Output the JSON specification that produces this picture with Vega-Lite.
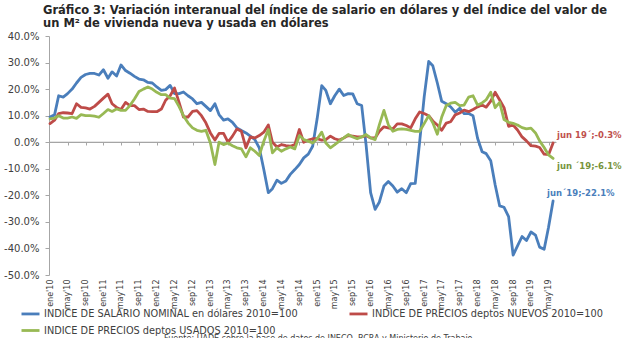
{
"$schema": "https://vega.github.io/schema/vega-lite/v6.json",
"width": 507, "height": 239,
"autosize": {"type": "none"},
"padding": {"left": 49, "top": 36, "right": 84, "bottom": 63},
"background": "white",
"config": {"view": {"stroke": null}, "font": "DejaVu Sans"},
"title": {"text": ["Gráfico 3: Variación interanual del índice de salario en dólares y del índice del valor de", "un M² de vivienda nueva y usada en dólares"], "anchor": "start", "frame": "group", "font": "DejaVu Sans", "fontSize": 11.5, "fontWeight": "bold", "color": "#262626", "dx": -6, "offset": 2, "lineHeight": 13},
"datasets": {
"main": [
{"m":"2010-01","k":"s","v":9.5},{"m":"2010-02","k":"s","v":10.3},{"m":"2010-03","k":"s","v":17.5},{"m":"2010-04","k":"s","v":17},{"m":"2010-05","k":"s","v":18.3},{"m":"2010-06","k":"s","v":20},{"m":"2010-07","k":"s","v":22.3},{"m":"2010-08","k":"s","v":24.4},{"m":"2010-09","k":"s","v":25.5},{"m":"2010-10","k":"s","v":25.9},{"m":"2010-11","k":"s","v":25.9},{"m":"2010-12","k":"s","v":25.3},
{"m":"2011-01","k":"s","v":27.3},{"m":"2011-02","k":"s","v":24.1},{"m":"2011-03","k":"s","v":26.5},{"m":"2011-04","k":"s","v":24.9},{"m":"2011-05","k":"s","v":29.1},{"m":"2011-06","k":"s","v":27},{"m":"2011-07","k":"s","v":26},{"m":"2011-08","k":"s","v":24.8},{"m":"2011-09","k":"s","v":23.8},{"m":"2011-10","k":"s","v":23.5},{"m":"2011-11","k":"s","v":22.5},{"m":"2011-12","k":"s","v":22.3},
{"m":"2012-01","k":"s","v":20.8},{"m":"2012-02","k":"s","v":19.5},{"m":"2012-03","k":"s","v":19.8},{"m":"2012-04","k":"s","v":21.4},{"m":"2012-05","k":"s","v":18.3},{"m":"2012-06","k":"s","v":18.3},{"m":"2012-07","k":"s","v":18.9},{"m":"2012-08","k":"s","v":17.5},{"m":"2012-09","k":"s","v":16.3},{"m":"2012-10","k":"s","v":14.5},{"m":"2012-11","k":"s","v":15},{"m":"2012-12","k":"s","v":13.5},
{"m":"2013-01","k":"s","v":11.9},{"m":"2013-02","k":"s","v":14.5},{"m":"2013-03","k":"s","v":10.4},{"m":"2013-04","k":"s","v":8.3},{"m":"2013-05","k":"s","v":8.8},{"m":"2013-06","k":"s","v":7.5},{"m":"2013-07","k":"s","v":5.4},{"m":"2013-08","k":"s","v":4.4},{"m":"2013-09","k":"s","v":3.5},{"m":"2013-10","k":"s","v":2.3},{"m":"2013-11","k":"s","v":1},{"m":"2013-12","k":"s","v":-2.1},
{"m":"2014-01","k":"s","v":-10.3},{"m":"2014-02","k":"s","v":-19},{"m":"2014-03","k":"s","v":-17.5},{"m":"2014-04","k":"s","v":-14.3},{"m":"2014-05","k":"s","v":-15.5},{"m":"2014-06","k":"s","v":-14.6},{"m":"2014-07","k":"s","v":-12.1},{"m":"2014-08","k":"s","v":-10.3},{"m":"2014-09","k":"s","v":-8.4},{"m":"2014-10","k":"s","v":-5.9},{"m":"2014-11","k":"s","v":-4.5},{"m":"2014-12","k":"s","v":-1.5},
{"m":"2015-01","k":"s","v":9},{"m":"2015-02","k":"s","v":21.3},{"m":"2015-03","k":"s","v":19.5},{"m":"2015-04","k":"s","v":14.5},{"m":"2015-05","k":"s","v":17.5},{"m":"2015-06","k":"s","v":20},{"m":"2015-07","k":"s","v":17.6},{"m":"2015-08","k":"s","v":18.3},{"m":"2015-09","k":"s","v":18.2},{"m":"2015-10","k":"s","v":14.5},{"m":"2015-11","k":"s","v":13.8},{"m":"2015-12","k":"s","v":-1},
{"m":"2016-01","k":"s","v":-19},{"m":"2016-02","k":"s","v":-25.3},{"m":"2016-03","k":"s","v":-22.5},{"m":"2016-04","k":"s","v":-16.5},{"m":"2016-05","k":"s","v":-14.8},{"m":"2016-06","k":"s","v":-16.5},{"m":"2016-07","k":"s","v":-18.8},{"m":"2016-08","k":"s","v":-17.5},{"m":"2016-09","k":"s","v":-19},{"m":"2016-10","k":"s","v":-15.6},{"m":"2016-11","k":"s","v":-15.5},{"m":"2016-12","k":"s","v":0},
{"m":"2017-01","k":"s","v":17},{"m":"2017-02","k":"s","v":30.4},{"m":"2017-03","k":"s","v":28.8},{"m":"2017-04","k":"s","v":22.3},{"m":"2017-05","k":"s","v":15.4},{"m":"2017-06","k":"s","v":14.5},{"m":"2017-07","k":"s","v":13.3},{"m":"2017-08","k":"s","v":11.3},{"m":"2017-09","k":"s","v":12.8},{"m":"2017-10","k":"s","v":10.8},{"m":"2017-11","k":"s","v":10.8},{"m":"2017-12","k":"s","v":10},
{"m":"2018-01","k":"s","v":1.5},{"m":"2018-02","k":"s","v":-3.6},{"m":"2018-03","k":"s","v":-4.3},{"m":"2018-04","k":"s","v":-7},{"m":"2018-05","k":"s","v":-16},{"m":"2018-06","k":"s","v":-24},{"m":"2018-07","k":"s","v":-24.5},{"m":"2018-08","k":"s","v":-28},{"m":"2018-09","k":"s","v":-42.5},{"m":"2018-10","k":"s","v":-39},{"m":"2018-11","k":"s","v":-35.5},{"m":"2018-12","k":"s","v":-37},
{"m":"2019-01","k":"s","v":-33.8},{"m":"2019-02","k":"s","v":-35},{"m":"2019-03","k":"s","v":-39.5},{"m":"2019-04","k":"s","v":-40.3},{"m":"2019-05","k":"s","v":-32},{"m":"2019-06","k":"s","v":-22.1,"t":"jun´19;-22.1%"},
{"m":"2010-01","k":"n","v":7},{"m":"2010-02","k":"n","v":8.3},{"m":"2010-03","k":"n","v":10.8},{"m":"2010-04","k":"n","v":11.1},{"m":"2010-05","k":"n","v":11},{"m":"2010-06","k":"n","v":10.8},{"m":"2010-07","k":"n","v":14.5},{"m":"2010-08","k":"n","v":13.1},{"m":"2010-09","k":"n","v":12.9},{"m":"2010-10","k":"n","v":12.5},{"m":"2010-11","k":"n","v":13.5},{"m":"2010-12","k":"n","v":15},
{"m":"2011-01","k":"n","v":16.6},{"m":"2011-02","k":"n","v":18.1},{"m":"2011-03","k":"n","v":14.5},{"m":"2011-04","k":"n","v":13.1},{"m":"2011-05","k":"n","v":12.3},{"m":"2011-06","k":"n","v":15},{"m":"2011-07","k":"n","v":13.8},{"m":"2011-08","k":"n","v":13.8},{"m":"2011-09","k":"n","v":12.3},{"m":"2011-10","k":"n","v":12.5},{"m":"2011-11","k":"n","v":11.6},{"m":"2011-12","k":"n","v":11.5},
{"m":"2012-01","k":"n","v":11.5},{"m":"2012-02","k":"n","v":12.5},{"m":"2012-03","k":"n","v":15.8},{"m":"2012-04","k":"n","v":17.5},{"m":"2012-05","k":"n","v":20.4},{"m":"2012-06","k":"n","v":15},{"m":"2012-07","k":"n","v":9.5},{"m":"2012-08","k":"n","v":9.5},{"m":"2012-09","k":"n","v":11.6},{"m":"2012-10","k":"n","v":11.9},{"m":"2012-11","k":"n","v":10},{"m":"2012-12","k":"n","v":7.3},
{"m":"2013-01","k":"n","v":3.5},{"m":"2013-02","k":"n","v":0.8},{"m":"2013-03","k":"n","v":3.3},{"m":"2013-04","k":"n","v":3.3},{"m":"2013-05","k":"n","v":0},{"m":"2013-06","k":"n","v":2.3},{"m":"2013-07","k":"n","v":5},{"m":"2013-08","k":"n","v":4.1},{"m":"2013-09","k":"n","v":-2.1},{"m":"2013-10","k":"n","v":2},{"m":"2013-11","k":"n","v":1.6},{"m":"2013-12","k":"n","v":2.5},
{"m":"2014-01","k":"n","v":3.8},{"m":"2014-02","k":"n","v":6.5},{"m":"2014-03","k":"n","v":0},{"m":"2014-04","k":"n","v":-1.8},{"m":"2014-05","k":"n","v":-0.9},{"m":"2014-06","k":"n","v":-1.3},{"m":"2014-07","k":"n","v":-1.5},{"m":"2014-08","k":"n","v":-0.9},{"m":"2014-09","k":"n","v":4.8},{"m":"2014-10","k":"n","v":0},{"m":"2014-11","k":"n","v":0.8},{"m":"2014-12","k":"n","v":1.3},
{"m":"2015-01","k":"n","v":1.3},{"m":"2015-02","k":"n","v":0.8},{"m":"2015-03","k":"n","v":1},{"m":"2015-04","k":"n","v":2.3},{"m":"2015-05","k":"n","v":1.3},{"m":"2015-06","k":"n","v":0.8},{"m":"2015-07","k":"n","v":1.6},{"m":"2015-08","k":"n","v":2.5},{"m":"2015-09","k":"n","v":2.3},{"m":"2015-10","k":"n","v":2},{"m":"2015-11","k":"n","v":2},{"m":"2015-12","k":"n","v":2.5},
{"m":"2016-01","k":"n","v":1.6},{"m":"2016-02","k":"n","v":1.6},{"m":"2016-03","k":"n","v":4.1},{"m":"2016-04","k":"n","v":5.8},{"m":"2016-05","k":"n","v":5.4},{"m":"2016-06","k":"n","v":5},{"m":"2016-07","k":"n","v":6.9},{"m":"2016-08","k":"n","v":6.9},{"m":"2016-09","k":"n","v":6.3},{"m":"2016-10","k":"n","v":5.4},{"m":"2016-11","k":"n","v":8.8},{"m":"2016-12","k":"n","v":11.4},
{"m":"2017-01","k":"n","v":10.8},{"m":"2017-02","k":"n","v":10},{"m":"2017-03","k":"n","v":8},{"m":"2017-04","k":"n","v":6.5},{"m":"2017-05","k":"n","v":4.5},{"m":"2017-06","k":"n","v":7.2},{"m":"2017-07","k":"n","v":7.7},{"m":"2017-08","k":"n","v":10.3},{"m":"2017-09","k":"n","v":11},{"m":"2017-10","k":"n","v":12.1},{"m":"2017-11","k":"n","v":11.5},{"m":"2017-12","k":"n","v":12.3},
{"m":"2018-01","k":"n","v":13.3},{"m":"2018-02","k":"n","v":14},{"m":"2018-03","k":"n","v":13.2},{"m":"2018-04","k":"n","v":15.5},{"m":"2018-05","k":"n","v":18.8},{"m":"2018-06","k":"n","v":15.9},{"m":"2018-07","k":"n","v":13},{"m":"2018-08","k":"n","v":6},{"m":"2018-09","k":"n","v":6.5},{"m":"2018-10","k":"n","v":4.6},{"m":"2018-11","k":"n","v":2},{"m":"2018-12","k":"n","v":0.5},
{"m":"2019-01","k":"n","v":-1.3},{"m":"2019-02","k":"n","v":-1.5},{"m":"2019-03","k":"n","v":-2},{"m":"2019-04","k":"n","v":-4.5},{"m":"2019-05","k":"n","v":-4.7},{"m":"2019-06","k":"n","v":-0.3,"t":"jun 19´;-0.3%"},
{"m":"2010-01","k":"u","v":8.8},{"m":"2010-02","k":"u","v":9.1},{"m":"2010-03","k":"u","v":10},{"m":"2010-04","k":"u","v":9.1},{"m":"2010-05","k":"u","v":9.1},{"m":"2010-06","k":"u","v":9.5},{"m":"2010-07","k":"u","v":9},{"m":"2010-08","k":"u","v":10.4},{"m":"2010-09","k":"u","v":10},{"m":"2010-10","k":"u","v":10},{"m":"2010-11","k":"u","v":9.8},{"m":"2010-12","k":"u","v":9.4},
{"m":"2011-01","k":"u","v":10.8},{"m":"2011-02","k":"u","v":12.3},{"m":"2011-03","k":"u","v":11.6},{"m":"2011-04","k":"u","v":12.5},{"m":"2011-05","k":"u","v":12},{"m":"2011-06","k":"u","v":12},{"m":"2011-07","k":"u","v":13.8},{"m":"2011-08","k":"u","v":16.3},{"m":"2011-09","k":"u","v":19.1},{"m":"2011-10","k":"u","v":20},{"m":"2011-11","k":"u","v":20.8},{"m":"2011-12","k":"u","v":20},
{"m":"2012-01","k":"u","v":18.8},{"m":"2012-02","k":"u","v":17.9},{"m":"2012-03","k":"u","v":17.9},{"m":"2012-04","k":"u","v":16.6},{"m":"2012-05","k":"u","v":16.4},{"m":"2012-06","k":"u","v":13.4},{"m":"2012-07","k":"u","v":10},{"m":"2012-08","k":"u","v":7.3},{"m":"2012-09","k":"u","v":5.4},{"m":"2012-10","k":"u","v":4.5},{"m":"2012-11","k":"u","v":4.1},{"m":"2012-12","k":"u","v":4.5},
{"m":"2013-01","k":"u","v":-0.3},{"m":"2013-02","k":"u","v":-8.4},{"m":"2013-03","k":"u","v":0},{"m":"2013-04","k":"u","v":-0.9},{"m":"2013-05","k":"u","v":-0.3},{"m":"2013-06","k":"u","v":-1.3},{"m":"2013-07","k":"u","v":-2.1},{"m":"2013-08","k":"u","v":-2.5},{"m":"2013-09","k":"u","v":-5.5},{"m":"2013-10","k":"u","v":-2.1},{"m":"2013-11","k":"u","v":-3.4},{"m":"2013-12","k":"u","v":-5},
{"m":"2014-01","k":"u","v":0.4},{"m":"2014-02","k":"u","v":4.8},{"m":"2014-03","k":"u","v":-4},{"m":"2014-04","k":"u","v":-2.1},{"m":"2014-05","k":"u","v":-3.4},{"m":"2014-06","k":"u","v":-2.5},{"m":"2014-07","k":"u","v":-1.8},{"m":"2014-08","k":"u","v":-2.5},{"m":"2014-09","k":"u","v":2.5},{"m":"2014-10","k":"u","v":1},{"m":"2014-11","k":"u","v":0.4},{"m":"2014-12","k":"u","v":-0.3},
{"m":"2015-01","k":"u","v":1.3},{"m":"2015-02","k":"u","v":3.8},{"m":"2015-03","k":"u","v":-0.3},{"m":"2015-04","k":"u","v":-2.1},{"m":"2015-05","k":"u","v":-0.9},{"m":"2015-06","k":"u","v":0.4},{"m":"2015-07","k":"u","v":1.6},{"m":"2015-08","k":"u","v":2.9},{"m":"2015-09","k":"u","v":2},{"m":"2015-10","k":"u","v":1.3},{"m":"2015-11","k":"u","v":2},{"m":"2015-12","k":"u","v":2.9},
{"m":"2016-01","k":"u","v":1.6},{"m":"2016-02","k":"u","v":1},{"m":"2016-03","k":"u","v":6.6},{"m":"2016-04","k":"u","v":12},{"m":"2016-05","k":"u","v":6.6},{"m":"2016-06","k":"u","v":4.1},{"m":"2016-07","k":"u","v":4.8},{"m":"2016-08","k":"u","v":5},{"m":"2016-09","k":"u","v":4.8},{"m":"2016-10","k":"u","v":4.5},{"m":"2016-11","k":"u","v":4.1},{"m":"2016-12","k":"u","v":4.1},
{"m":"2017-01","k":"u","v":7},{"m":"2017-02","k":"u","v":10},{"m":"2017-03","k":"u","v":7.3},{"m":"2017-04","k":"u","v":3},{"m":"2017-05","k":"u","v":9.5},{"m":"2017-06","k":"u","v":13.8},{"m":"2017-07","k":"u","v":14.7},{"m":"2017-08","k":"u","v":15},{"m":"2017-09","k":"u","v":13.8},{"m":"2017-10","k":"u","v":14},{"m":"2017-11","k":"u","v":17},{"m":"2017-12","k":"u","v":17.5},
{"m":"2018-01","k":"u","v":14},{"m":"2018-02","k":"u","v":14.8},{"m":"2018-03","k":"u","v":16},{"m":"2018-04","k":"u","v":18.8},{"m":"2018-05","k":"u","v":13},{"m":"2018-06","k":"u","v":15},{"m":"2018-07","k":"u","v":8.5},{"m":"2018-08","k":"u","v":7.5},{"m":"2018-09","k":"u","v":7.1},{"m":"2018-10","k":"u","v":6.5},{"m":"2018-11","k":"u","v":5.5},{"m":"2018-12","k":"u","v":5},
{"m":"2019-01","k":"u","v":5.3},{"m":"2019-02","k":"u","v":3.5},{"m":"2019-03","k":"u","v":0.5},{"m":"2019-04","k":"u","v":-2},{"m":"2019-05","k":"u","v":-4.8},{"m":"2019-06","k":"u","v":-6.1,"t":"jun ´19;-6.1%"}
]
},
"resolve": {"axis": {"x": "independent"}},
"layer": [
{
"data": {"values": [{}]},
"mark": {"type": "rule", "color": "#a6a6a6", "strokeWidth": 1},
"encoding": {
"x": {"datum": {"year": 2009, "month": 12, "date": 25, "utc": true}, "type": "temporal",
 "axis": {"orient": "bottom", "offset": -133, "labels": false, "domain": true, "domainColor": "#a6a6a6", "ticks": true, "tickColor": "#a6a6a6", "tickSize": 3, "grid": false, "title": null,
  "values": [{"year":2010,"month":5,"date":1,"utc":true},{"year":2010,"month":9,"date":1,"utc":true},{"year":2011,"month":1,"date":1,"utc":true},{"year":2011,"month":5,"date":1,"utc":true},{"year":2011,"month":9,"date":1,"utc":true},{"year":2012,"month":1,"date":1,"utc":true},{"year":2012,"month":5,"date":1,"utc":true},{"year":2012,"month":9,"date":1,"utc":true},{"year":2013,"month":1,"date":1,"utc":true},{"year":2013,"month":5,"date":1,"utc":true},{"year":2013,"month":9,"date":1,"utc":true},{"year":2014,"month":1,"date":1,"utc":true},{"year":2014,"month":5,"date":1,"utc":true},{"year":2014,"month":9,"date":1,"utc":true},{"year":2015,"month":1,"date":1,"utc":true},{"year":2015,"month":5,"date":1,"utc":true},{"year":2015,"month":9,"date":1,"utc":true},{"year":2016,"month":1,"date":1,"utc":true},{"year":2016,"month":5,"date":1,"utc":true},{"year":2016,"month":9,"date":1,"utc":true},{"year":2017,"month":1,"date":1,"utc":true},{"year":2017,"month":5,"date":1,"utc":true},{"year":2017,"month":9,"date":1,"utc":true},{"year":2018,"month":1,"date":1,"utc":true},{"year":2018,"month":5,"date":1,"utc":true},{"year":2018,"month":9,"date":1,"utc":true},{"year":2019,"month":1,"date":1,"utc":true},{"year":2019,"month":5,"date":1,"utc":true}]}},
"x2": {"datum": {"year": 2019, "month": 6, "date": 21, "utc": true}},
"y": {"datum": 0, "type": "quantitative",
 "axis": {"tickCount": 10, "labelExpr": "datum.value + '.0%'", "labelOverlap": false, "grid": false, "domainColor": "#a6a6a6", "tickColor": "#a6a6a6", "tickSize": 4, "labelFontSize": 10, "labelColor": "#404040", "labelPadding": 6, "title": null}}
}
},
{
"data": {"name": "main", "format": {"parse": {"m": "utc:'%Y-%m'"}}},
"resolve": {"axis": {"x": "independent"}},
"layer": [
{
"mark": {"type": "line", "strokeWidth": 2.8, "strokeJoin": "round", "strokeCap": "round"},
"encoding": {
"x": {"field": "m", "type": "temporal",
 "scale": {"type": "utc", "domain": [{"year": 2009, "month": 12, "date": 25, "utc": true}, {"year": 2019, "month": 6, "date": 21, "utc": true}]},
 "axis": {"orient": "bottom", "domain": false, "ticks": false, "grid": false, "labelAngle": -90, "labelAlign": "right", "labelBaseline": "middle", "labelFontSize": 8, "labelColor": "#404040", "labelPadding": 4, "labelOverlap": false, "labelFlush": false,
  "labelExpr": "['ene','feb','mar','abr','may','jun','jul','ago','sep','oct','nov','dic'][utcmonth(datum.value)] + \"'\" + utcFormat(datum.value, '%y')",
  "title": "Fuente: UADE sobre la base de datos de INECO, BCRA y Ministerio de Trabajo.", "titleFontSize": 8, "titleFontWeight": "normal", "titleColor": "#404040", "titleX": 270, "titleY": 59, "titleBaseline": "top",
  "values": [{"year":2010,"month":1,"date":1,"utc":true},{"year":2010,"month":5,"date":1,"utc":true},{"year":2010,"month":9,"date":1,"utc":true},{"year":2011,"month":1,"date":1,"utc":true},{"year":2011,"month":5,"date":1,"utc":true},{"year":2011,"month":9,"date":1,"utc":true},{"year":2012,"month":1,"date":1,"utc":true},{"year":2012,"month":5,"date":1,"utc":true},{"year":2012,"month":9,"date":1,"utc":true},{"year":2013,"month":1,"date":1,"utc":true},{"year":2013,"month":5,"date":1,"utc":true},{"year":2013,"month":9,"date":1,"utc":true},{"year":2014,"month":1,"date":1,"utc":true},{"year":2014,"month":5,"date":1,"utc":true},{"year":2014,"month":9,"date":1,"utc":true},{"year":2015,"month":1,"date":1,"utc":true},{"year":2015,"month":5,"date":1,"utc":true},{"year":2015,"month":9,"date":1,"utc":true},{"year":2016,"month":1,"date":1,"utc":true},{"year":2016,"month":5,"date":1,"utc":true},{"year":2016,"month":9,"date":1,"utc":true},{"year":2017,"month":1,"date":1,"utc":true},{"year":2017,"month":5,"date":1,"utc":true},{"year":2017,"month":9,"date":1,"utc":true},{"year":2018,"month":1,"date":1,"utc":true},{"year":2018,"month":5,"date":1,"utc":true},{"year":2018,"month":9,"date":1,"utc":true},{"year":2019,"month":1,"date":1,"utc":true},{"year":2019,"month":5,"date":1,"utc":true}]}},
"y": {"field": "v", "type": "quantitative", "scale": {"domain": [-50, 40], "nice": false, "zero": false}},
"color": {"field": "k", "type": "nominal", "scale": {"domain": ["s", "n", "u"], "range": ["#4a7ebb", "#be4b48", "#98b954"]},
 "legend": {"orient": "none", "legendX": -29, "legendY": 267, "direction": "horizontal", "columns": 2, "title": null, "symbolType": "stroke", "symbolStrokeWidth": 2.8, "symbolSize": 324, "labelFontSize": 9.75, "labelColor": "#404040", "labelLimit": 400, "columnPadding": 45, "rowPadding": 0, "labelOffset": 3,
  "labelExpr": "datum.label == 's' ? 'INDICE DE SALARIO NOMINAL en dólares 2010=100' : datum.label == 'n' ? 'INDICE DE PRECIOS deptos NUEVOS 2010=100' : 'INDICE DE PRECIOS deptos USADOS 2010=100'"}}
}
},
{
"transform": [{"filter": "datum.k == 'n' && isValid(datum.t)"}],
"mark": {"type": "text", "align": "left", "baseline": "middle", "dx": 4, "dy": -8, "fontWeight": "bold", "fontSize": 8.5, "color": "#c0504d"},
"encoding": {"x": {"field": "m", "type": "temporal", "axis": null}, "y": {"field": "v", "type": "quantitative"}, "text": {"field": "t"}}
},
{
"transform": [{"filter": "datum.k == 'u' && isValid(datum.t)"}],
"mark": {"type": "text", "align": "left", "baseline": "middle", "dx": 4, "dy": 8, "fontWeight": "bold", "fontSize": 8.5, "color": "#77933c"},
"encoding": {"x": {"field": "m", "type": "temporal", "axis": null}, "y": {"field": "v", "type": "quantitative"}, "text": {"field": "t"}}
},
{
"transform": [{"filter": "datum.k == 's' && isValid(datum.t)"}],
"mark": {"type": "text", "align": "left", "baseline": "middle", "dx": -6, "dy": -8, "fontWeight": "bold", "fontSize": 8.5, "color": "#4a7ebb"},
"encoding": {"x": {"field": "m", "type": "temporal", "axis": null}, "y": {"field": "v", "type": "quantitative"}, "text": {"field": "t"}}
}
]
}
]
}
